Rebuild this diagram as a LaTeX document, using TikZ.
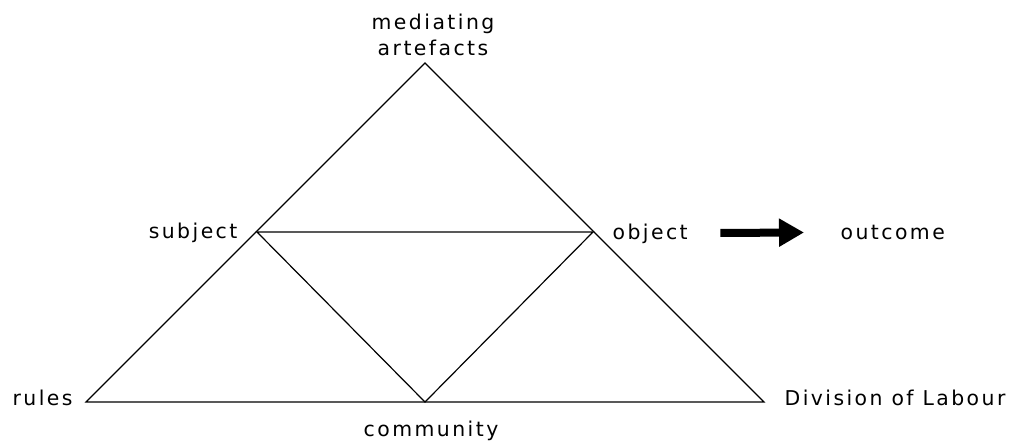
\documentclass[tikz,border=0pt]{standalone}
\usepackage{fontspec}
\setmainfont{DejaVu Sans}[LetterSpace=12]
\usetikzlibrary{positioning,arrows.meta}

\begin{document}
\begin{tikzpicture}[x=0.75pt,y=-0.75pt,line width=0.9pt,
  lbl/.style={inner sep=0pt,font=\fontsize{15.3}{19}\selectfont},
  bigarrow/.style={-{Triangle[length=18.75pt,width=20pt]},line width=6pt}]
  \useasboundingbox (0,0) rectangle (1019,443);
  % corners of the triangle
  \coordinate (apex) at (425,63);
  \coordinate (subj) at (257,232);
  \coordinate (obj) at (593,232);
  \coordinate (rul) at (86,402);
  \coordinate (div) at (764,402);
  \coordinate (com) at (425,402);
  \draw (rul) -- (apex) -- (div) -- cycle;
  \draw (subj) -- (obj) -- (com) -- cycle;
  % labels
  \node[lbl,anchor=base] (med) at (433,29) {mediating};
  \node[lbl,anchor=base] (art) at (433,55) {artefacts};
  \node[lbl,anchor=base east] (subjlbl) at (238,238) {subject};
  \node[lbl,anchor=base west] (objlbl) at (612,239) {object};
  \node[lbl,anchor=base west] (outc) at (840,239) {outcome};
  \node[lbl,anchor=base west] (rules) at (12,405) {rules};
  \node[lbl,anchor=base west] (dol) at (784,405) {Division of Labour};
  \node[lbl,anchor=base] (comm) at (431,436) {community};
  \draw[bigarrow,shorten <=24pt,shorten >=27pt] (objlbl) -- (outc);
\end{tikzpicture}
\end{document}
